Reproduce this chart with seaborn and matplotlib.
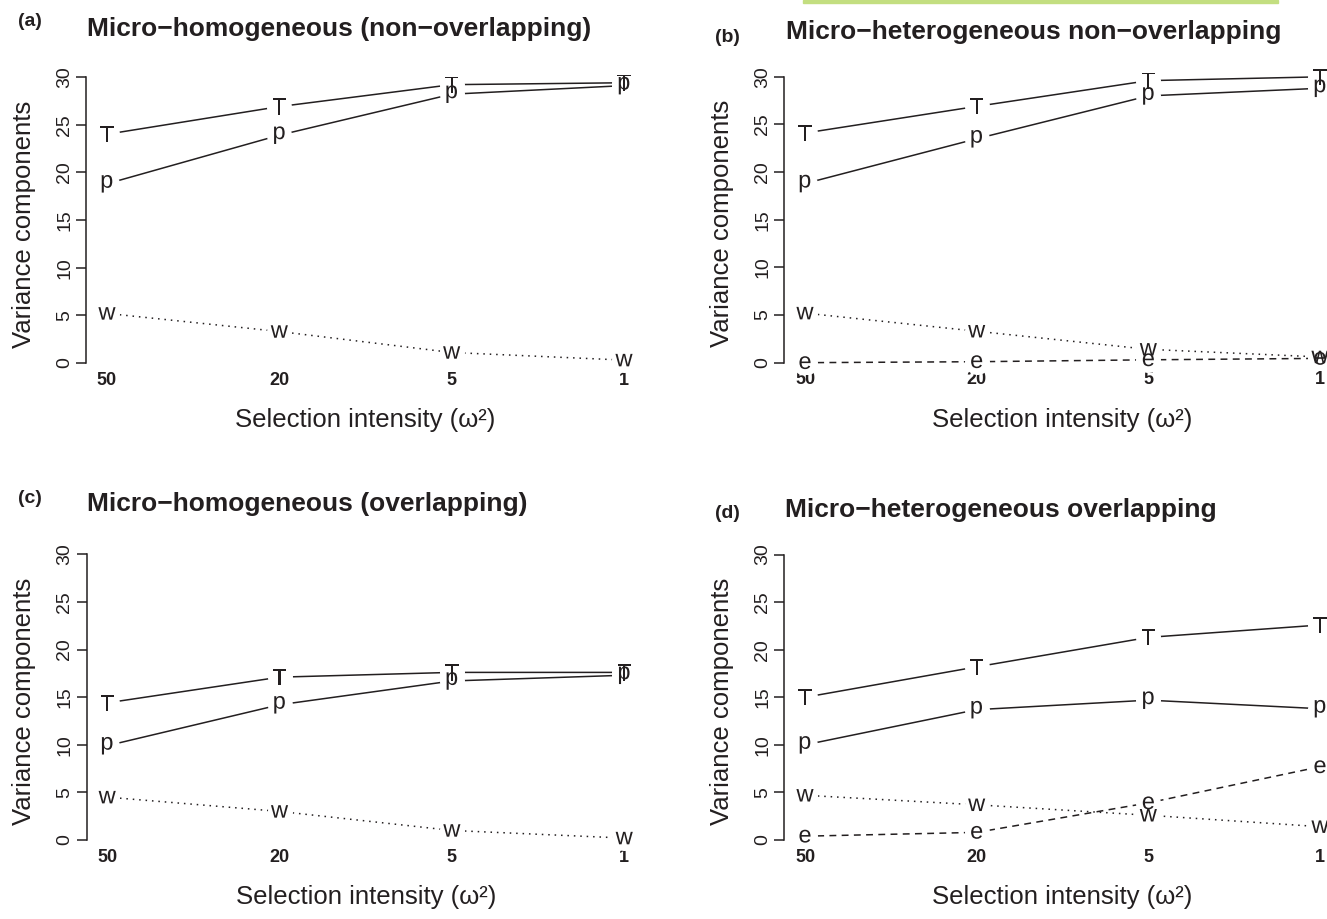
import numpy as np
import pandas as pd
import seaborn as sns
import matplotlib.pyplot as plt
from matplotlib.path import Path
from matplotlib.textpath import TextPath
from matplotlib.font_manager import FontProperties
from matplotlib.patches import Rectangle

# selection intensity (omega^2) categories, drawn left to right
omega_labels = ["50", "20", "5", "1"]

# (a) micro-homogeneous, non-overlapping
a_T = [24.0, 26.9, 29.2, 29.4]
a_p = [18.8, 23.9, 28.2, 29.1]
a_w = [5.2, 3.3, 1.1, 0.3]

# (b) micro-heterogeneous, non-overlapping
b_T = [24.1, 26.9, 29.6, 30.0]
b_p = [18.8, 23.5, 28.0, 28.8]
b_w = [5.2, 3.3, 1.4, 0.6]
b_e = [0.0, 0.1, 0.3, 0.45]

# (c) micro-homogeneous, overlapping
c_T = [14.4, 17.1, 17.6, 17.6]
c_p = [9.9, 14.2, 16.7, 17.3]
c_w = [4.5, 3.0, 1.0, 0.2]

# (d) micro-heterogeneous, overlapping
d_T = [15.0, 18.2, 21.3, 22.6]
d_p = [10.0, 13.7, 14.7, 13.8]
d_w = [4.7, 3.7, 2.6, 1.4]
d_e = [0.4, 0.8, 3.9, 7.7]

panel_series = {
    "a": {"T": a_T, "p": a_p, "w": a_w},
    "b": {"T": b_T, "p": b_p, "w": b_w, "e": b_e},
    "c": {"T": c_T, "p": c_p, "w": c_w},
    "d": {"T": d_T, "p": d_p, "w": d_w, "e": d_e},
}
panel_titles = {
    "a": "Micro\u2212homogeneous (non\u2212overlapping)",
    "b": "Micro\u2212heterogeneous non\u2212overlapping",
    "c": "Micro\u2212homogeneous (overlapping)",
    "d": "Micro\u2212heterogeneous overlapping",
}

rows = []
for panel, series in panel_series.items():
    for comp, vals in series.items():
        for i, v in enumerate(vals):
            rows.append({"panel": panel, "component": comp, "pos": i + 1, "value": v})
df = pd.DataFrame(rows)

sns.set_theme(style="white")
plt.rcParams["font.family"] = ["Liberation Sans", "DejaVu Sans"]
INK = "#231f20"
LETTER_PT = 17
GAP_PT = 18

line_styles = {"T": "-", "p": "-", "w": (0, (1, 3.2)), "e": (0, (4.5, 3.5))}

letter_font = FontProperties(family="Liberation Sans")


def letter_marker(ch):
    # glyph path centred on its ink box, like R's pch characters
    tp = TextPath((0, 0), ch, size=1, prop=letter_font)
    ext = tp.get_extents()
    verts = tp.vertices - [ext.x0 + ext.width / 2, ext.y0 + ext.height / 2]
    r = np.abs(verts).max()
    return Path(verts, tp.codes), 2 * r * LETTER_PT


markers = {c: letter_marker(c) for c in ["T", "p", "w", "e"]}

W, H = 1327, 919
# plot regions in pixels: left, right, top, bottom
boxes = {
    "a": (86.3, 644.7, 65.6, 374.4),
    "b": (784.4, 1340.6, 65.4, 374.1),
    "c": (86.5, 644.9, 542.9, 851.4),
    "d": (784.4, 1340.6, 543.2, 851.4),
}
# title left x, title baseline y, label centre x, label baseline y
title_pos = {
    "a": (87, 36, 30, 26),
    "b": (786, 39, 727, 42),
    "c": (87, 511, 30, 503),
    "d": (785, 517, 727, 518),
}

fig = plt.figure(figsize=(13.27, 9.19), dpi=100)

for key, (l, r, t, b) in boxes.items():
    ax = fig.add_axes([l / W, 1 - b / H, (r - l) / W, (b - t) / H])
    sub = df[df["panel"] == key]
    comps = list(panel_series[key].keys())
    for comp in comps:
        s = sub[sub["component"] == comp]
        sns.lineplot(data=s, x="pos", y="value", color=INK, linewidth=1.1,
                     linestyle=line_styles[comp], zorder=1, ax=ax)
    for comp in comps:
        s = sub[sub["component"] == comp]
        sns.scatterplot(data=s, x="pos", y="value", color="white", s=GAP_PT ** 2,
                        linewidth=0, zorder=2, ax=ax)
    for comp in comps:
        s = sub[sub["component"] == comp]
        path, ms = markers[comp]
        sns.scatterplot(data=s, x="pos", y="value", marker=path, s=ms ** 2,
                        color=INK, linewidth=0, edgecolor="none", zorder=3, ax=ax)

    ax.set_xlim(0.88, 4.12)
    ax.set_ylim(-1.2, 31.2)
    ax.set_xlabel("")
    ax.set_ylabel("")
    ax.set_xticks(range(1, len(omega_labels) + 1), omega_labels)
    ax.set_yticks(range(0, 31, 5))
    ax.tick_params(axis="x", length=0, pad=-2, labelsize=13, colors=INK)
    ax.tick_params(axis="y", left=True, length=7.5, width=1.1, pad=2,
                   labelsize=14, colors=INK, direction="out")
    for lab in ax.get_xticklabels():
        lab.set_fontweight("bold")
    for lab in ax.get_yticklabels():
        lab.set_rotation(90)
        lab.set_va("center")
    for side in ["top", "right", "bottom"]:
        ax.spines[side].set_visible(False)
    ax.spines["left"].set_bounds(0, 30)
    ax.spines["left"].set_color(INK)
    ax.spines["left"].set_linewidth(1.1)

    fig.text((l - 62) / W, 1 - ((t + b) / 2 + 4) / H,
             "Variance components", rotation=90, ha="center", va="center",
             fontsize=18.5, color=INK)
    fig.text(((l + r) / 2) / W, 1 - (b + 46) / H, "Selection intensity (\u03c9\u00b2)",
             ha="center", va="center", fontsize=18.5, color=INK)

    tx, ty, lx, ly = title_pos[key]
    fig.text(tx / W, 1 - ty / H, panel_titles[key], ha="left", va="baseline",
             fontsize=19, fontweight="bold", color=INK)
    fig.text(lx / W, 1 - ly / H, f"({key})", ha="center", va="baseline",
             fontsize=14, fontweight="bold", color=INK)

fig.add_artist(Rectangle((803 / W, 1 - 3 / H), 475 / W, 3 / H,
                         transform=fig.transFigure, color="#c3de80", zorder=5))

fig.savefig("out.png", dpi=100)
